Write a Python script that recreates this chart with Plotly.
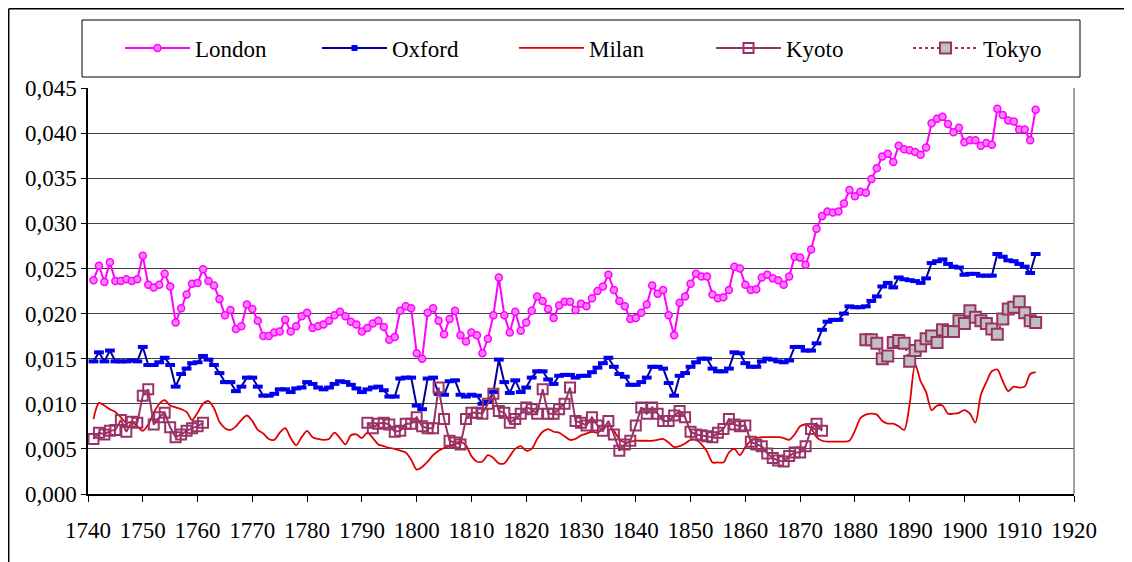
import plotly.graph_objects as go

years = list(range(1741, 1914))

london = [
    0.0237, 0.0253, 0.0235, 0.0257, 0.0236, 0.0236, 0.0238, 0.0236, 0.0238, 0.0264,
    0.0232, 0.0229, 0.0232, 0.0244, 0.0230, 0.0190, 0.0206, 0.0221, 0.0233, 0.0234,
    0.0249, 0.0236, 0.0231, 0.0216, 0.0198, 0.0204, 0.0183, 0.0186, 0.0210, 0.0205,
    0.0192, 0.0175, 0.0175, 0.0179, 0.0180, 0.0193,
    0.0180, 0.0186, 0.0197, 0.0201, 0.0184, 0.0186, 0.0188, 0.0192, 0.0198, 0.0202,
    0.0197, 0.0191, 0.0188, 0.0180, 0.0184, 0.0189, 0.0192, 0.0185, 0.0171, 0.0174,
    0.0203, 0.0208, 0.0206, 0.0156, 0.0150, 0.0201, 0.0206, 0.0192, 0.0177, 0.0194,
    0.0203, 0.0176, 0.0169, 0.0179, 0.0176, 0.0156, 0.0172,
    0.0198, 0.0240, 0.0198, 0.0179, 0.0202, 0.0181, 0.0190, 0.0203, 0.0219, 0.0214,
    0.0205, 0.0195, 0.0209, 0.0213, 0.0213, 0.0204, 0.0211, 0.0208, 0.0217, 0.0225,
    0.0230, 0.0243, 0.0226, 0.0214, 0.0208, 0.0194, 0.0195, 0.0201, 0.0210, 0.0231,
    0.0222, 0.0226, 0.0198, 0.0176, 0.0212, 0.0219, 0.0233,
    0.0244, 0.0241, 0.0241, 0.0221, 0.0217, 0.0218, 0.0226, 0.0252, 0.0250, 0.0232,
    0.0226, 0.0227, 0.0240, 0.0243, 0.0239, 0.0237, 0.0232, 0.0241, 0.0263, 0.0262,
    0.0254, 0.0271, 0.0294, 0.0308, 0.0313, 0.0312, 0.0313, 0.0322, 0.0337, 0.0330,
    0.0335, 0.0334, 0.0349, 0.0361, 0.0374, 0.0377,
    0.0368, 0.0386, 0.0382, 0.0381, 0.0379, 0.0376, 0.0384, 0.0411, 0.0416, 0.0418,
    0.0410, 0.0401, 0.0406, 0.0390, 0.0392, 0.0392, 0.0386, 0.0389, 0.0387, 0.0427,
    0.0420, 0.0414, 0.0413, 0.0404, 0.0404, 0.0392, 0.0426,
]

oxford = [
    0.0147, 0.0157, 0.0147, 0.0159, 0.0147, 0.0147, 0.0147, 0.0148, 0.0147, 0.0163,
    0.0143, 0.0143, 0.0146, 0.0151, 0.0143, 0.0119, 0.0133, 0.0139, 0.0145, 0.0146,
    0.0153, 0.0149, 0.0143, 0.0134, 0.0124, 0.0124, 0.0114, 0.0119, 0.0129, 0.0129,
    0.0119, 0.0109, 0.0109, 0.0111, 0.0116,
    0.0116, 0.0113, 0.0117, 0.0118, 0.0124, 0.0122, 0.0118, 0.0116, 0.0118, 0.0122,
    0.0125, 0.0124, 0.0121, 0.0117, 0.0113, 0.0116, 0.0118, 0.0119, 0.0115, 0.0108,
    0.0108, 0.0128, 0.0129, 0.0129, 0.0098, 0.0094, 0.0128, 0.0129, 0.0111, 0.0110,
    0.0125, 0.0126, 0.0110, 0.0108, 0.0110, 0.0109, 0.0100, 0.0102,
    0.0113, 0.0149, 0.0124, 0.0112, 0.0126, 0.0113, 0.0118, 0.0129, 0.0136, 0.0136,
    0.0127, 0.0122, 0.0131, 0.0132, 0.0132, 0.0129, 0.0131, 0.0131, 0.0135, 0.0140,
    0.0145, 0.0151, 0.0141, 0.0133, 0.0130, 0.0121, 0.0121, 0.0124, 0.0129, 0.0141,
    0.0141, 0.0139, 0.0123, 0.0109, 0.0131, 0.0134,
    0.0141, 0.0146, 0.0150, 0.0150, 0.0139, 0.0136, 0.0136, 0.0139, 0.0157, 0.0156,
    0.0145, 0.0141, 0.0141, 0.0147, 0.0150, 0.0149, 0.0147, 0.0146, 0.0148, 0.0163,
    0.0163, 0.0159, 0.0159, 0.0167, 0.0182, 0.0191, 0.0193, 0.0193, 0.0200, 0.0208,
    0.0207, 0.0207, 0.0208, 0.0214, 0.0219,
    0.0230, 0.0234, 0.0229, 0.0240, 0.0238, 0.0237, 0.0236, 0.0234, 0.0239, 0.0256,
    0.0258, 0.0260, 0.0255, 0.0252, 0.0251, 0.0243, 0.0244, 0.0244, 0.0242, 0.0242,
    0.0242, 0.0266, 0.0263, 0.0259, 0.0258, 0.0255, 0.0252, 0.0245, 0.0266,
]

milan = [
    0.0083, 0.0101, 0.0098, 0.0094, 0.0091, 0.0085, 0.0079, 0.0080, 0.0075, 0.0070,
    0.0077, 0.0090, 0.0100, 0.0104, 0.0098, 0.0096, 0.0094, 0.0091, 0.0082, 0.0090,
    0.0100, 0.0103, 0.0095, 0.0080, 0.0073, 0.0071, 0.0075, 0.0082, 0.0087, 0.0081,
    0.0071, 0.0067, 0.0061, 0.0060, 0.0068, 0.0073, 0.0062, 0.0054, 0.0063, 0.0070,
    0.0063, 0.0061, 0.0060, 0.0061, 0.0068, 0.0062, 0.0055, 0.0065, 0.0066, 0.0062,
    0.0068, 0.0062, 0.0055, 0.0053, 0.0051, 0.0050, 0.0048, 0.0046, 0.0038, 0.0027,
    0.0030, 0.0036, 0.0043, 0.0048, 0.0051, 0.0053, 0.0056, 0.0058, 0.0054, 0.0042,
    0.0036, 0.0036, 0.0043, 0.0040, 0.0034, 0.0034, 0.0042, 0.0050, 0.0053, 0.0048,
    0.0050, 0.0061, 0.0069, 0.0072, 0.0069, 0.0068, 0.0064, 0.0060, 0.0061, 0.0065,
    0.0067, 0.0069, 0.0068, 0.0072, 0.0076, 0.0070, 0.0061, 0.0057, 0.0058, 0.0059,
    0.0059, 0.0059, 0.0059, 0.0060, 0.0061, 0.0057, 0.0052, 0.0053, 0.0056, 0.0060,
    0.0060, 0.0055, 0.0047, 0.0035, 0.0035, 0.0035, 0.0046, 0.0050, 0.0043, 0.0052,
    0.0059, 0.0062, 0.0063, 0.0063, 0.0063, 0.0063, 0.0062, 0.0060, 0.0066, 0.0075,
    0.0077, 0.0073, 0.0063, 0.0059, 0.0058, 0.0058, 0.0058, 0.0058, 0.0059, 0.0070,
    0.0084, 0.0088, 0.0089, 0.0088, 0.0081, 0.0078, 0.0078, 0.0075, 0.0071, 0.0100,
    0.0144, 0.0125, 0.0113, 0.0093, 0.0098, 0.0098, 0.0089, 0.0089, 0.0090, 0.0093,
    0.0089, 0.0079, 0.0110, 0.0124, 0.0136, 0.0138, 0.0125, 0.0114, 0.0119, 0.0118,
    0.0119, 0.0133, 0.0135,
]

kyoto_early_years = list(range(1741, 1762))
kyoto_early = [
    0.0061, 0.0068, 0.0066, 0.0070, 0.0071, 0.0082, 0.0069, 0.0080, 0.0079, 0.0109,
    0.0116, 0.0077, 0.0085, 0.0090, 0.0074, 0.0063, 0.0066, 0.0070, 0.0073, 0.0075,
    0.0079,
]
kyoto_late_years = list(range(1791, 1875))
kyoto_late = [
    0.0079, 0.0073, 0.0078, 0.0079, 0.0077, 0.0069, 0.0070, 0.0078, 0.0078, 0.0085,
    0.0075, 0.0073, 0.0073, 0.0118, 0.0083, 0.0059, 0.0057, 0.0055, 0.0083, 0.0090,
    0.0090, 0.0089, 0.0100,
    0.0111, 0.0092, 0.0090, 0.0079, 0.0083, 0.0089, 0.0096, 0.0094, 0.0089, 0.0116,
    0.0089, 0.0089, 0.0094, 0.0100, 0.0118, 0.0081, 0.0079, 0.0076, 0.0085, 0.0076,
    0.0070, 0.0081, 0.0066, 0.0048, 0.0055, 0.0059, 0.0076, 0.0096, 0.0089, 0.0096,
    0.0089, 0.0081, 0.0081, 0.0087, 0.0092, 0.0085,
    0.0069, 0.0066, 0.0065, 0.0064, 0.0063, 0.0068, 0.0072, 0.0083, 0.0077, 0.0075,
    0.0076, 0.0058, 0.0055, 0.0053, 0.0045, 0.0040, 0.0037, 0.0036, 0.0042, 0.0046,
    0.0046, 0.0053, 0.0072, 0.0078, 0.0070,
]

tokyo_years = list(range(1882, 1914))
tokyo = [
    0.0171, 0.0171, 0.0167, 0.0150, 0.0153, 0.0168, 0.0170, 0.0167, 0.0147, 0.0159,
    0.0164, 0.0172, 0.0175, 0.0168, 0.0182, 0.0180, 0.0180, 0.0192, 0.0189, 0.0203,
    0.0196, 0.0192, 0.0189, 0.0183, 0.0177, 0.0194, 0.0205, 0.0207, 0.0213, 0.0201,
    0.0192, 0.0190,
]

x_ticks = list(range(1740, 1921, 10))
y_ticks = [i * 0.005 for i in range(10)]

FONT = '"Liberation Serif", "Times New Roman", Times, "DejaVu Serif", serif'
FS = 23
KY = "#993366"

kyoto_x = kyoto_early_years + [1776] + kyoto_late_years
kyoto_y = kyoto_early + [None] + kyoto_late

fig = go.Figure()
fig.add_trace(go.Scatter(
    x=years, y=london, name="London", mode="lines+markers",
    line=dict(color="#FF00FF", width=2),
    marker=dict(symbol="circle", size=7, color="#FF80FF",
                line=dict(color="#FF00FF", width=1.5)),
))
fig.add_trace(go.Scatter(
    x=years, y=oxford, name="Oxford", mode="lines+markers",
    legendgroup="oxford", showlegend=False,
    line=dict(color="#000099", width=2),
    marker=dict(symbol="line-ew", size=7, color="#0000FF",
                line=dict(color="#0000EE", width=4)),
))
# legend entry for Oxford (square marker as in the original key)
fig.add_trace(go.Scatter(
    x=[None], y=[None], name="Oxford", mode="lines+markers",
    legendgroup="oxford", showlegend=True,
    line=dict(color="#000099", width=2),
    marker=dict(symbol="square", size=6, color="#0000FF",
                line=dict(color="#0000EE", width=0)),
))
fig.add_trace(go.Scatter(
    x=years, y=milan, name="Milan", mode="lines",
    line=dict(color="#E00000", width=1.8, shape="spline", smoothing=0.8),
))
fig.add_trace(go.Scatter(
    x=kyoto_x, y=kyoto_y, name="Kyoto", mode="lines+markers",
    connectgaps=False,
    line=dict(color=KY, width=2),
    marker=dict(symbol="square-open", size=10, color=KY,
                line=dict(color=KY, width=2)),
))
fig.add_trace(go.Scatter(
    x=tokyo_years, y=tokyo, name="Tokyo", mode="lines+markers",
    line=dict(color=KY, width=2, dash="dot"),
    marker=dict(symbol="square", size=11, color="#C0C0C0",
                line=dict(color=KY, width=2)),
))

# The page body has an 8px margin, so the figure is placed at (8, 8) on screen.
OFF = 8
FIG_W, FIG_H = 1132 - OFF, 562 - OFF
# plot area geometry in screen pixels
L, R, T, B = 88, 1074, 88, 494
W, H = R - L, B - T
def px(x):
    return (x - L) / W
def py(y):
    return (B - y) / H

shapes = [
    dict(type="line", xref="paper", yref="paper", x0=px(8.7), x1=px(1140), y0=py(8.7), y1=py(8.7),
         line=dict(color="black", width=1.5)),
    dict(type="line", xref="paper", yref="paper", x0=px(8.7), x1=px(8.7), y0=py(8.7), y1=py(570),
         line=dict(color="black", width=1.5)),
    dict(type="line", xref="paper", yref="paper", x0=1, x1=1, y0=0, y1=1,
         line=dict(color="#808080", width=1.5)),
    dict(type="rect", xref="paper", yref="paper", x0=px(82), x1=px(1080), y0=py(77), y1=py(20),
         line=dict(color="black", width=1), fillcolor="rgba(0,0,0,0)"),
]

fig.update_layout(
    width=FIG_W, height=FIG_H,
    margin=dict(l=L - OFF, r=FIG_W - (R - OFF), t=T - OFF, b=FIG_H - (B - OFF),
                pad=0, autoexpand=False),
    paper_bgcolor="white", plot_bgcolor="white",
    font=dict(family=FONT, size=FS, color="black"),
    separators=", ",
    showlegend=True,
    legend=dict(
        orientation="h", x=px(120), xanchor="left", y=py(48), yanchor="middle",
        font=dict(family=FONT, size=FS, color="black"),
        itemwidth=65,
        entrywidth=117, entrywidthmode="pixels",
        bgcolor="rgba(0,0,0,0)", borderwidth=0,
    ),
    shapes=shapes,
    xaxis=dict(
        range=[1740, 1920], tickvals=x_ticks, ticktext=[str(v) for v in x_ticks],
        ticks="outside", ticklen=6, tickwidth=1, tickcolor="black",
        showline=True, linecolor="black", linewidth=2,
        showgrid=False, zeroline=False, ticklabelstandoff=8,
        tickfont=dict(family=FONT, size=FS),
    ),
    yaxis=dict(
        range=[0, 0.045], tickvals=y_ticks, tickformat=".3f",
        ticks="outside", ticklen=5, tickwidth=1, tickcolor="black",
        showline=True, linecolor="black", linewidth=1.5,
        showgrid=True, gridcolor="#404040", gridwidth=1, zeroline=False,
        ticklabelstandoff=0,
        tickfont=dict(family=FONT, size=FS),
    ),
)

fig.write_html("out.html")
